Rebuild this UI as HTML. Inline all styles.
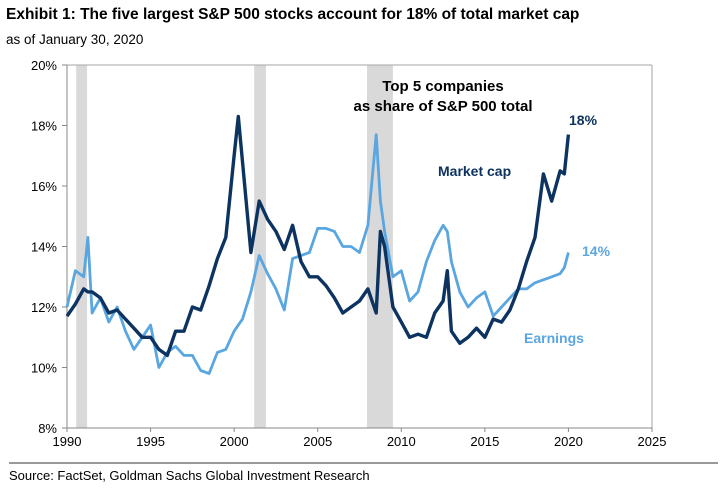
<!DOCTYPE html>
<html><head><meta charset="utf-8"><style>
body{margin:0;background:#fff;font-family:"Liberation Sans",Arial,sans-serif;}
#wrap{position:relative;width:725px;height:493px;overflow:hidden;}
</style></head><body>
<div id="wrap">
<svg id="chart" width="725" height="493" xmlns="http://www.w3.org/2000/svg" font-family="Liberation Sans, Arial, sans-serif"></svg>
</div>
<script>
const years=[1990,1990.5,1991,1991.25,1991.5,1992,1992.5,1993,1993.5,1994,1994.5,1995,1995.5,1996,1996.5,1997,1997.5,1998,1998.5,1999,1999.5,2000,2000.25,2000.5,2001,2001.5,2002,2002.5,2003,2003.5,2004,2004.5,2005,2005.5,2006,2006.5,2007,2007.5,2008,2008.5,2008.75,2009,2009.5,2010,2010.5,2011,2011.5,2012,2012.5,2012.75,2013,2013.5,2014,2014.5,2015,2015.5,2016,2016.5,2017,2017.5,2018,2018.5,2019,2019.5,2019.75,2020];
const marketCap=[11.7,12.1,12.6,12.5,12.5,12.3,11.8,11.9,11.6,11.3,11.0,11.0,10.6,10.4,11.2,11.2,12.0,11.9,12.7,13.6,14.3,17.0,18.3,16.8,13.8,15.5,14.9,14.5,13.9,14.7,13.5,13.0,13.0,12.7,12.3,11.8,12.0,12.2,12.6,11.8,14.5,14.0,12.0,11.5,11.0,11.1,11.0,11.8,12.2,13.2,11.2,10.8,11.0,11.3,11.0,11.6,11.5,11.9,12.6,13.5,14.3,16.4,15.5,16.5,16.4,17.7];
const earnings=[12.0,13.2,13.0,14.3,11.8,12.3,11.5,12.0,11.2,10.6,11.0,11.4,10.0,10.5,10.7,10.4,10.4,9.9,9.8,10.5,10.6,11.2,11.4,11.6,12.5,13.7,13.1,12.6,11.9,13.6,13.7,13.8,14.6,14.6,14.5,14.0,14.0,13.8,14.7,17.7,15.5,14.5,13.0,13.2,12.2,12.5,13.5,14.2,14.7,14.5,13.5,12.5,12.0,12.3,12.5,11.7,12.0,12.3,12.6,12.6,12.8,12.9,13.0,13.1,13.3,13.8];
const recessions=[[1990.55,1991.2],[2001.2,2001.9],[2007.95,2009.5]];
const yTicks=[8,10,12,14,16,18,20];
const xTicks=[1990,1995,2000,2005,2010,2015,2020,2025];

const svg=document.getElementById('chart');
const NS='http://www.w3.org/2000/svg';
const L=67,R=652,T=65,B=428;
const xs=v=>L+(v-1990)/(2025-1990)*(R-L);
const ys=v=>B-(v-8)/(20-8)*(B-T);
function mk(tag,attrs,txt){const e=document.createElementNS(NS,tag);for(const k in attrs)e.setAttribute(k,attrs[k]);if(txt!==undefined)e.textContent=txt;svg.appendChild(e);return e;}

let e;
e=mk('text',{x:6,y:19,'font-size':'15.5','font-weight':'bold',fill:'#000'},'Exhibit 1: The five largest S&P 500 stocks account for 18% of total market cap');


e=mk('text',{x:6,y:44,'font-size':'13.5',fill:'#000'},'as of January 30, 2020');



recessions.forEach(r=>{
  e=mk('rect',{x:xs(r[0]),y:T,width:xs(r[1])-xs(r[0]),height:B-T,fill:'#d9d9d9'});
  
  
});

e=mk('line',{x1:L,y1:T,x2:R,y2:T,stroke:'#a6a6a6','stroke-width':1});


e=mk('line',{x1:R,y1:T,x2:R,y2:B,stroke:'#a6a6a6','stroke-width':1});


e=mk('line',{x1:L,y1:T,x2:L,y2:B+4,stroke:'#888','stroke-width':1});


e=mk('line',{x1:L,y1:B,x2:R,y2:B,stroke:'#888','stroke-width':1});



yTicks.forEach(v=>{
  e=mk('line',{x1:L-5,y1:ys(v),x2:L,y2:ys(v),stroke:'#888'});
  
  
  e=mk('text',{x:L-10,y:ys(v)+5,'font-size':'13','text-anchor':'end',fill:'#000'},v+'%');
  
  
});
xTicks.forEach(v=>{
  e=mk('line',{x1:xs(v),y1:B,x2:xs(v),y2:B+4,stroke:'#888'});
  
  
  e=mk('text',{x:xs(v),y:B+18,'font-size':'13','text-anchor':'middle',fill:'#000'},v);
  
  
});

function path(vals){return vals.map((v,i)=>(i?'L':'M')+xs(years[i]).toFixed(1)+','+ys(v).toFixed(1)).join(' ');}
e=mk('path',{d:path(earnings),fill:'none',stroke:'#5aa6e0','stroke-width':2.8,'stroke-linejoin':'round'});


e=mk('path',{d:path(marketCap),fill:'none',stroke:'#0d3461','stroke-width':3.4,'stroke-linejoin':'round'});



e=mk('text',{x:443,y:91,'font-size':'15','font-weight':'bold','text-anchor':'middle',fill:'#000'},'Top 5 companies');


e=mk('text',{x:443,y:111,'font-size':'15','font-weight':'bold','text-anchor':'middle',fill:'#000'},'as share of S&P 500 total');


e=mk('text',{x:438,y:176,'font-size':'14','font-weight':'bold',fill:'#0d3461'},'Market cap');


e=mk('text',{x:524,y:343,'font-size':'14','font-weight':'bold',fill:'#5aa6e0'},'Earnings');


e=mk('text',{x:569,y:125,'font-size':'14','font-weight':'bold',fill:'#0d3461'},'18%');


e=mk('text',{x:582,y:256,'font-size':'14','font-weight':'bold',fill:'#5aa6e0'},'14%');



e=mk('line',{x1:9,y1:463,x2:718,y2:463,stroke:'#999','stroke-width':2});


e=mk('text',{x:9,y:480,'font-size':'13',fill:'#000'},'Source: FactSet, Goldman Sachs Global Investment Research');


</script>
</body></html>
